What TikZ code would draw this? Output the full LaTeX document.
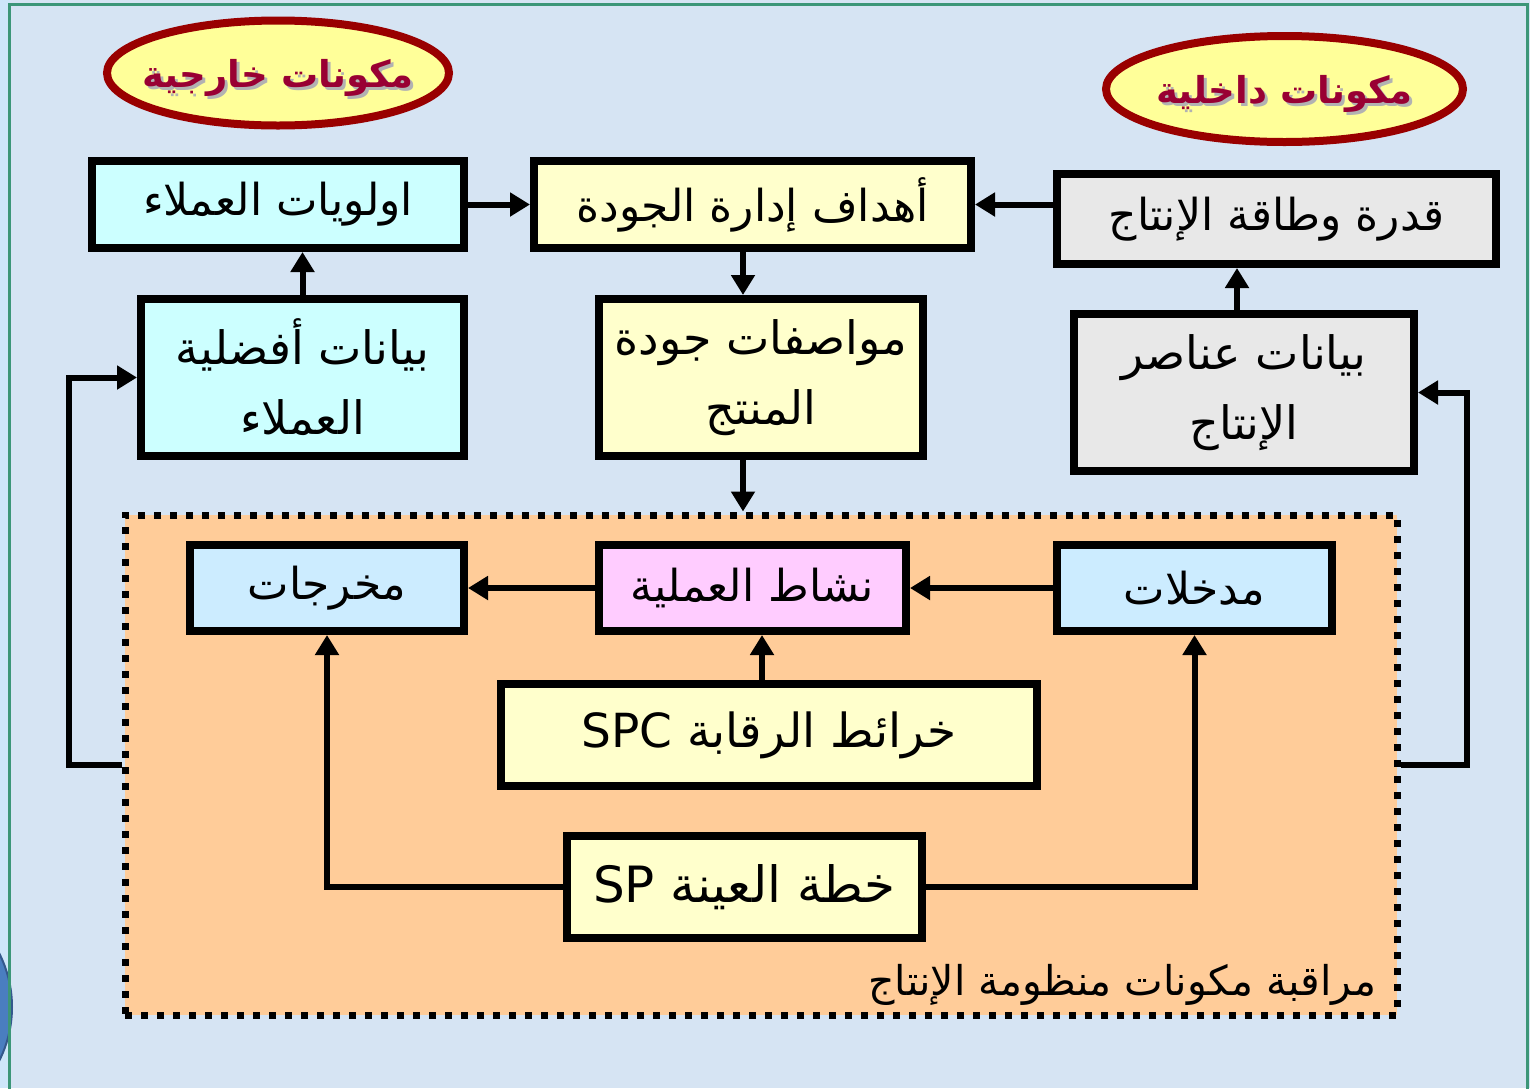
\documentclass[tikz,border=0pt]{standalone}
\usepackage{fontspec}
\usetikzlibrary{arrows.meta,shapes.geometric,calc}
\TeXXeTstate=1
\newfontfamily\arabicfont[Script=Arabic]{DejaVu Sans}
\newcommand{\artxt}[1]{{\arabicfont\beginR #1\endR}}

\definecolor{bgblue}{RGB}{214,228,243}
\definecolor{stripblue}{RGB}{206,230,250}
\definecolor{framegreen}{RGB}{60,150,120}
\definecolor{discblue}{RGB}{74,126,192}
\definecolor{discedge}{RGB}{52,88,140}
\definecolor{cyanfill}{RGB}{204,255,255}
\definecolor{yellowfill}{RGB}{255,255,204}
\definecolor{grayfill}{RGB}{232,232,232}
\definecolor{skyfill}{RGB}{204,236,255}
\definecolor{pinkfill}{RGB}{255,204,255}
\definecolor{orangefill}{RGB}{255,204,153}
\definecolor{ovalfill}{RGB}{255,255,153}
\definecolor{ovaledge}{RGB}{153,0,0}
\definecolor{ovaltext}{RGB}{153,0,51}

\begin{document}
\begin{tikzpicture}[x=0.5pt,y=-0.5pt,
  box/.style={draw=black, line width=4pt, rectangle, inner sep=0pt, align=center,
    font=\fontsize{22}{35}\selectfont},
  tallbox/.style={box, font=\fontsize{23}{35}\selectfont},
  conn/.style={line width=3pt, -{Triangle[length=10pt,width=11.5pt]}},
  oval/.style={ellipse, draw=ovaledge, fill=ovalfill, line width=4pt, inner sep=0pt},
  ovallabel/.style={text=ovaltext, font=\bfseries\fontsize{18.5}{22}\selectfont},
  ovalshadow/.style={text=black!30, font=\bfseries\fontsize{18.5}{22}\selectfont},
  region/.style={rectangle, fill=orangefill, draw=black, line width=3.5pt,
    dash pattern=on 3.5pt off 4.5pt, inner sep=0pt}
]
\useasboundingbox (0,0) rectangle (1530,1088);

% page background, side strip and frame
\begin{scope}
  \clip (0,0) rectangle (1530,1088);
  \fill[bgblue] (0,0) rectangle (1530,1088);
  \fill[stripblue] (0,0) rectangle (9.5,1088);
  \filldraw[fill=discblue, draw=discedge, line width=1pt] (-107,1007) circle (119);
  \draw[framegreen, line width=1.5pt] (9.5,1100) -- (9.5,4) -- (1527.5,4) -- (1527.5,1100);
\end{scope}

% group headings
\node[oval, minimum width=171pt, minimum height=52.5pt] (extoval) at (278,73) {};
\node[ovalshadow] (extshadow) at ($(extoval)+(3,8)$) {\artxt{مكونات خارجية}};
\node[ovallabel] (extlabel) at ($(extoval)+(0,5)$) {\artxt{مكونات خارجية}};

\node[oval, minimum width=178.5pt, minimum height=53pt] (intoval) at (1284.5,89) {};
\node[ovalshadow] (intshadow) at ($(intoval)+(3,8)$) {\artxt{مكونات داخلية}};
\node[ovallabel] (intlabel) at ($(intoval)+(0,5)$) {\artxt{مكونات داخلية}};

% upper row of boxes
\node[box, fill=cyanfill, minimum width=186pt, minimum height=43.5pt] (cust) at (278,204.5)
  {\artxt{اولويات العملاء}};
\node[box, fill=yellowfill, minimum width=218.5pt, minimum height=43.5pt] (goals) at (752.5,204.5)
  {\artxt{أهداف إدارة الجودة}};
\node[box, fill=grayfill, minimum width=219.5pt, minimum height=45pt] (cap) at (1276.5,219)
  {\artxt{قدرة وطاقة الإنتاج}};

% data boxes
\node[tallbox, fill=cyanfill, minimum width=161.5pt, minimum height=78.5pt] (custdata) at (302.5,377.5)
  {\artxt{بيانات أفضلية}\\\artxt{العملاء}};
\node[tallbox, fill=yellowfill, minimum width=162pt, minimum height=78.5pt] (spec) at (761,377.5)
  {\artxt{مواصفات جودة}\\\artxt{المنتج}};
\node[tallbox, fill=grayfill, minimum width=170pt, minimum height=78.5pt] (resdata) at (1244,392.5)
  {\artxt{بيانات عناصر}\\\artxt{الإنتاج}};

% production system region
\node[region, minimum width=636pt, minimum height=250pt] (sys) at (761,765) {};
\node[anchor=base east, font=\fontsize{20.5}{25}\selectfont] (syslabel) at (1383,995)
  {\artxt{مراقبة مكونات منظومة الإنتاج}};

\node[box, fill=skyfill, minimum width=137pt, minimum height=43pt] (out) at (327,588)
  {\artxt{مخرجات}};
\node[box, fill=pinkfill, minimum width=153.5pt, minimum height=43pt] (proc) at (752.5,588)
  {\artxt{نشاط العملية}};
\node[box, fill=skyfill, minimum width=137.5pt, minimum height=43pt] (in) at (1194.5,588)
  {\artxt{مدخلات}};
\node[box, fill=yellowfill, minimum width=268pt, minimum height=51pt,
  font=\fontsize{23.5}{30}\selectfont] (spc) at (769,735)
  {\artxt{خرائط الرقابة \beginL SPC\endL}};
\node[box, fill=yellowfill, minimum width=177.5pt, minimum height=51pt,
  font=\fontsize{25}{30}\selectfont] (sp) at (744.5,887)
  {\artxt{خطة العينة \beginL SP\endL}};

% connectors
\draw[conn] (cust.east) -- (goals.west);
\draw[conn] (cap.west |- goals.east) -- (goals.east);
\draw[conn] (goals.south -| 743,0) -- (spec.north -| 743,0);
\draw[conn] (custdata.north) -- (custdata.north |- cust.south);
\draw[conn] (resdata.north -| 1237,0) -- (cap.south -| 1237,0);
\draw[conn] (spec.south -| 743,0) -- (sys.north -| 743,0);
\draw[conn] (sys.west) -- ++(-53,0) |- (custdata.west);
\draw[conn] (sys.east) -- ++(66,0) |- (resdata.east);
\draw[conn] (proc.west) -- (out.east);
\draw[conn] (in.west) -- (proc.east);
\draw[conn] (spc.north -| 762,0) -- (proc.south -| 762,0);
\draw[conn] (sp.west) -| (out.south);
\draw[conn] (sp.east) -| (in.south);
\end{tikzpicture}
\end{document}
